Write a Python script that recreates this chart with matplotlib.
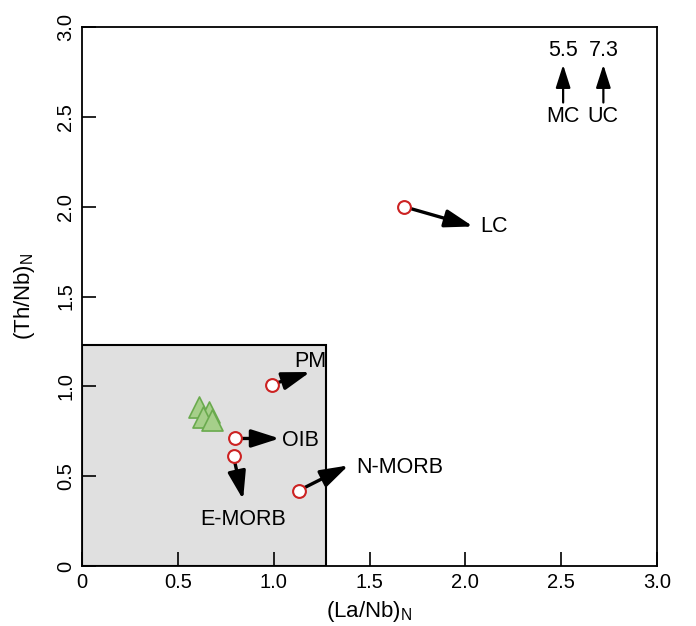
import matplotlib
matplotlib.use("Agg")
import matplotlib.pyplot as plt
from matplotlib.patches import Rectangle

plt.rcParams['font.family'] = ['Liberation Sans', 'DejaVu Sans']

# Reference compositions (La/Nb)N, (Th/Nb)N
ref_names = ["LC", "PM", "OIB", "E-MORB", "N-MORB"]
ref_x = [1.68, 0.99, 0.80, 0.79, 1.13]
ref_y = [2.00, 1.01, 0.71, 0.61, 0.42]
# arrow tips (data coords)
arrow_x = [2.04, 1.19, 1.03, 0.84, 1.39]
arrow_y = [1.89, 1.08, 0.71, 0.37, 0.56]
# label positions
label_x = [2.15, 1.19, 1.14, 0.84, 1.66]
label_y = [1.89, 1.14, 0.70, 0.26, 0.55]

# samples (green triangles)
samp_x = [0.61, 0.66, 0.63, 0.68]
samp_y = [0.885, 0.86, 0.83, 0.815]

# off-scale crust values
off_names = ["MC", "UC"]
off_values = ["5.5", "7.3"]
off_x = [2.51, 2.72]

# shaded field
box_x = 1.27
box_y = 1.23

fig = plt.figure(figsize=(6.96, 6.26), dpi=100)
ax = fig.add_axes([0.118, 0.0958, 0.826, 0.861])

ax.add_patch(Rectangle((0, 0), box_x, box_y, facecolor='#e0e0e0',
                       edgecolor='black', lw=1.5, zorder=1))

ax.scatter(samp_x, samp_y, marker='^', s=230, facecolor='#a6cf8a',
           edgecolor='#6aaa4e', lw=1.2, zorder=3)

ap = dict(arrowstyle='-|>,head_length=1.0,head_width=0.32', lw=2.4,
          color='black', shrinkA=5, shrinkB=0, mutation_scale=17)
for n, x, y, ax_, ay, lx, ly in zip(ref_names, ref_x, ref_y, arrow_x, arrow_y,
                                     label_x, label_y):
    ax.annotate("", xy=(ax_, ay), xytext=(x, y), arrowprops=ap, zorder=4)
    ax.text(lx, ly, n, fontsize=15.5, ha='center', va='center', zorder=5)

ax.scatter(ref_x, ref_y, s=85, facecolor='white', edgecolor='#cc2222',
           lw=1.5, zorder=6)

ap2 = dict(arrowstyle='-|>,head_length=1.0,head_width=0.32', lw=1.6,
           color='black', shrinkA=0, shrinkB=0, mutation_scale=14)
for n, v, x in zip(off_names, off_values, off_x):
    ax.annotate("", xy=(x, 2.79), xytext=(x, 2.58), arrowprops=ap2)
    ax.text(x, 2.5, n, fontsize=15.5, ha='center', va='center')
    ax.text(x, 2.87, v, fontsize=15.5, ha='center', va='center')

ax.set_xlim(0, 3)
ax.set_ylim(0, 3)
ticks = [0, 0.5, 1.0, 1.5, 2.0, 2.5, 3.0]
ticklabels = ["0", "0.5", "1.0", "1.5", "2.0", "2.5", "3.0"]
ax.set_xticks(ticks)
ax.set_xticklabels(ticklabels, fontsize=14.5)
ax.set_yticks(ticks)
ax.set_yticklabels(ticklabels, fontsize=14.5, rotation=90, va='center')
ax.tick_params(direction='in', length=10, width=1.2, pad=5)
for s in ax.spines.values():
    s.set_linewidth(1.3)

ax.set_xlabel("(La/Nb)$_\\mathregular{N}$", fontsize=16, labelpad=5)
ax.set_ylabel("(Th/Nb)$_\\mathregular{N}$", fontsize=16, labelpad=14)

fig.savefig("out.png", dpi=100)
